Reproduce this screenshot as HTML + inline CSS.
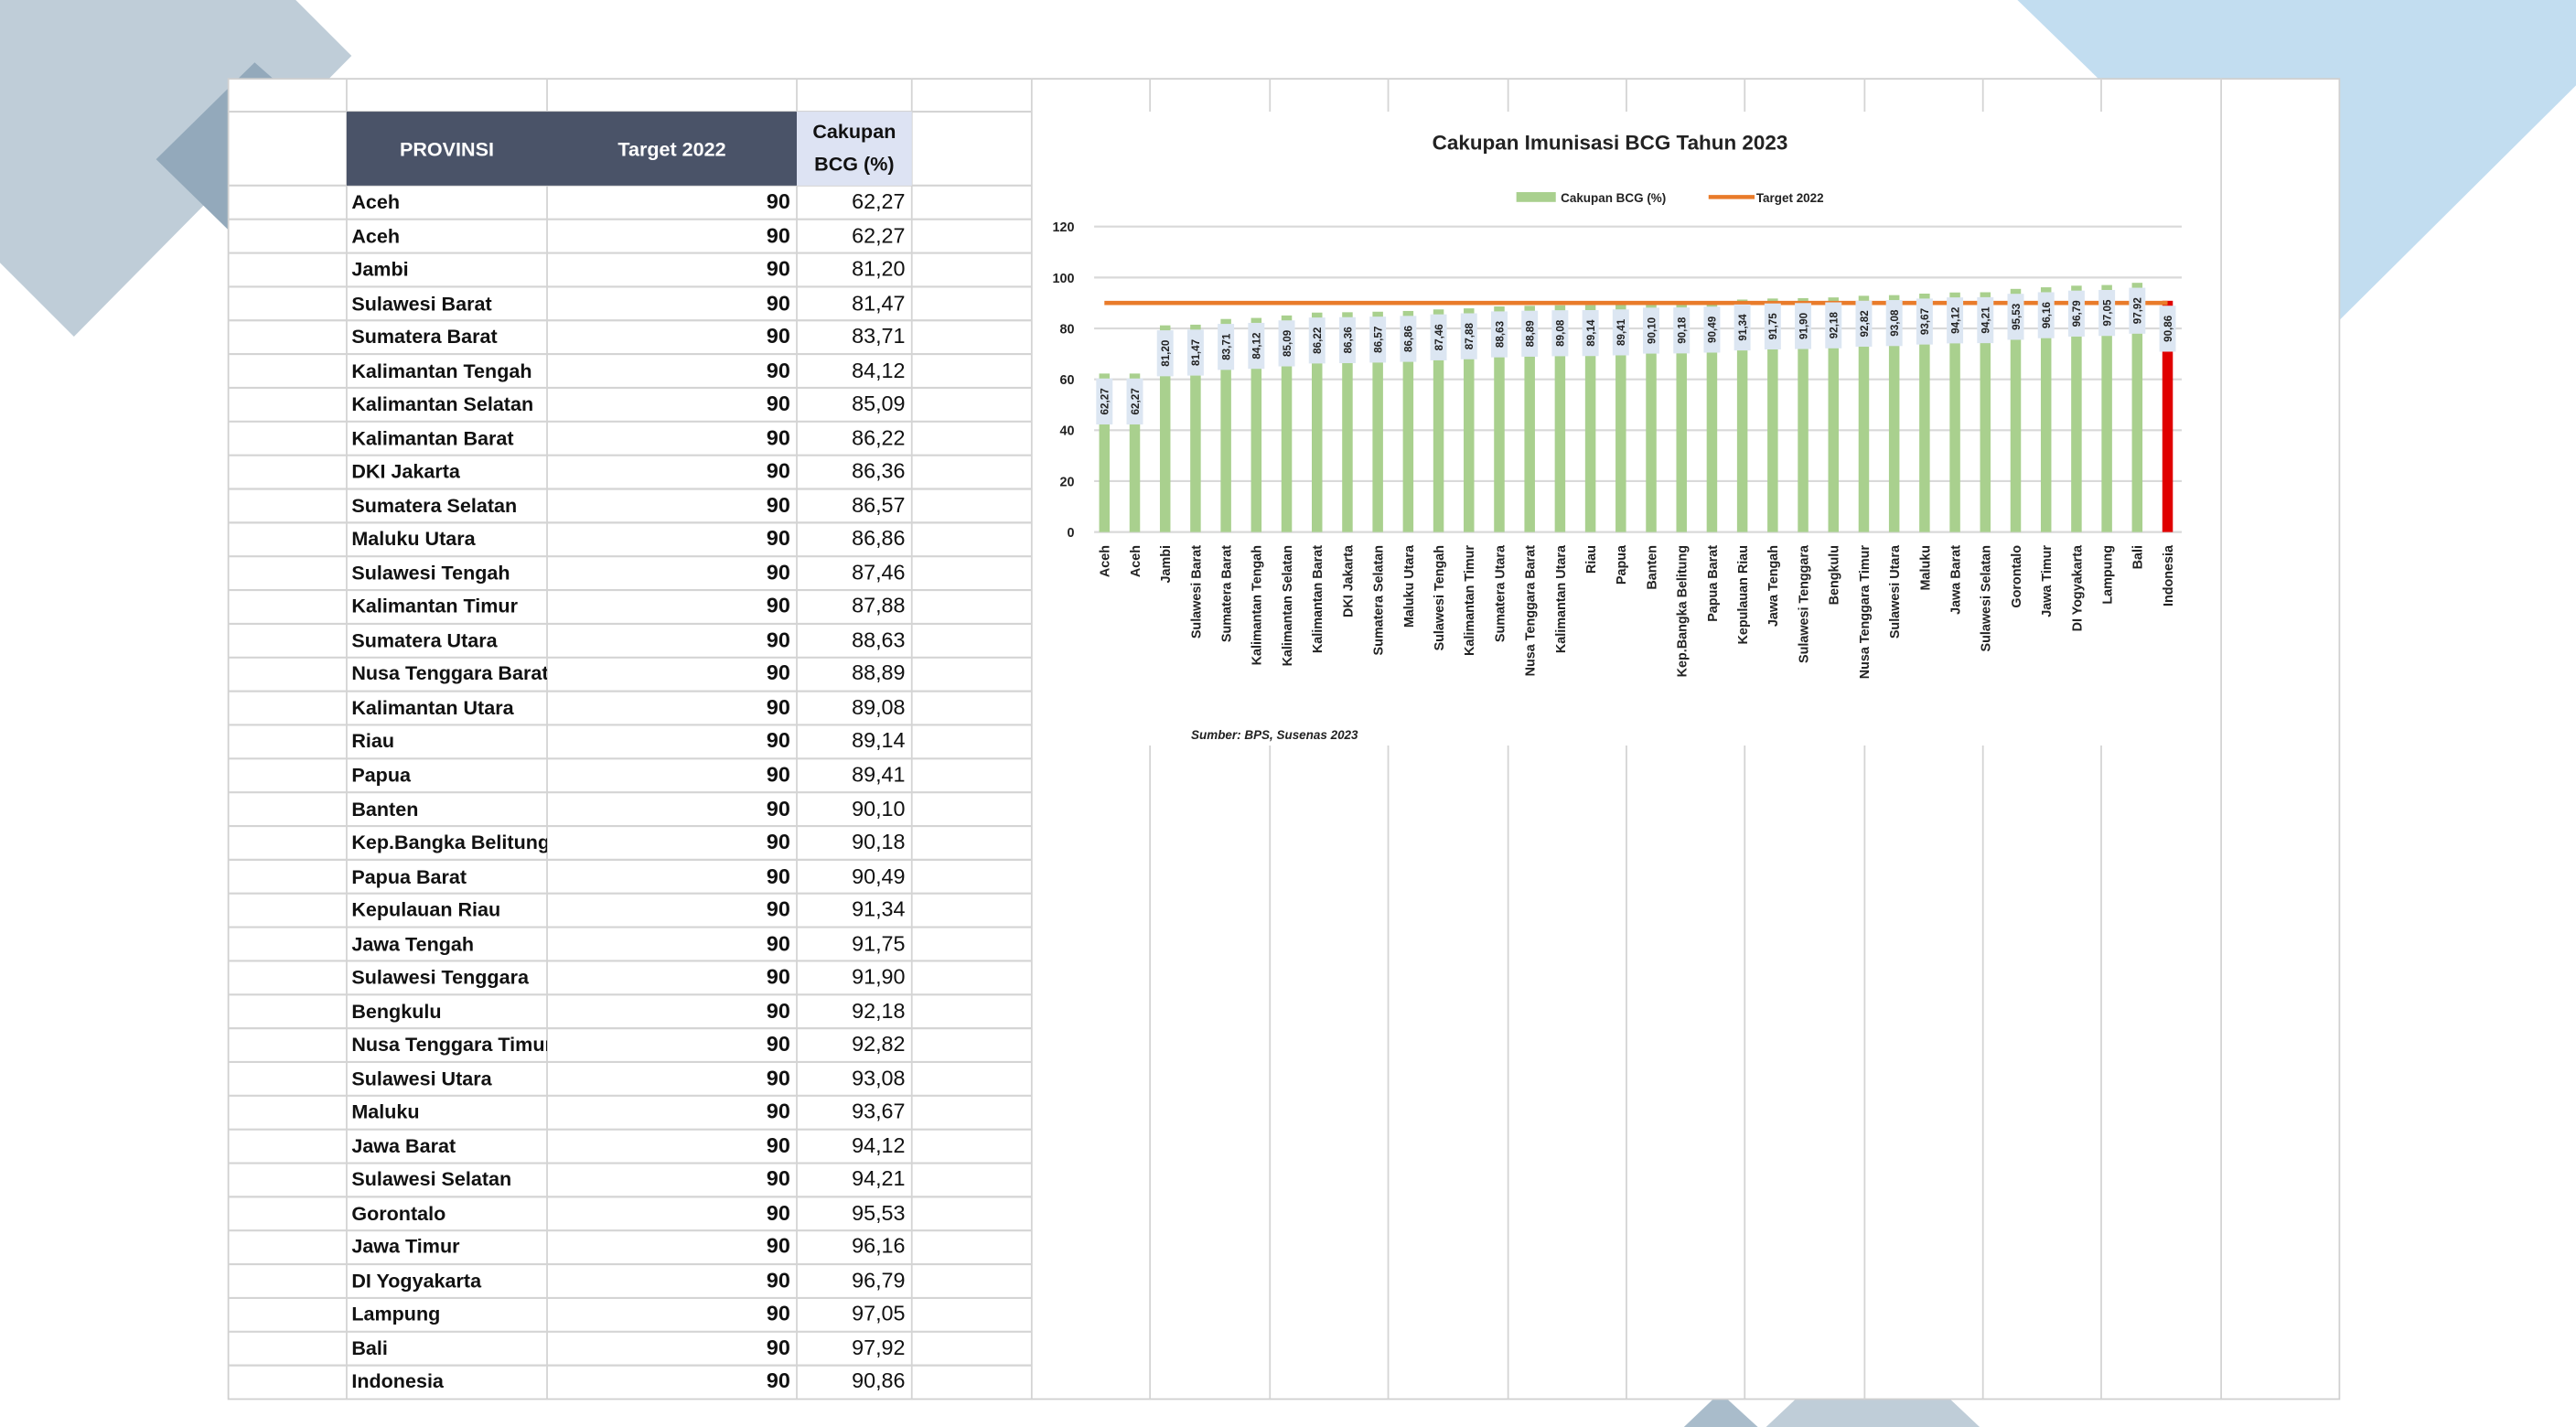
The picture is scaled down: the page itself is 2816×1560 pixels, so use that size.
<!DOCTYPE html>
<html><head><meta charset="utf-8"><style>
html,body{margin:0;padding:0;background:#fff;overflow:hidden}
#root{position:absolute;left:0;top:0;width:1568px;height:869px;transform-origin:0 0;transform:scale(1.79592,1.79517);font-family:"Liberation Sans",sans-serif}
.cell{position:absolute;overflow:hidden;white-space:nowrap;font-weight:bold;font-size:12px;line-height:20px;color:#111}
</style></head><body>
<div id="root">
<svg id="bg" width="1568" height="869" style="position:absolute;left:0;top:0">
<polygon points="0,0 180,0 214,34 45,205 0,160" fill="#bfcdd8"/>
<polygon points="155,38 95,97 139,140 180,60" fill="#93a9bb"/>
<polygon points="1228,0 1568,0 1568,52 1424,195 1300,70" fill="#c2ddf0"/>
<polygon points="1025,869 1047,848 1070,869" fill="#a9bccb"/>
<polygon points="1075,869 1093,852 1187,852 1205,869" fill="#bfcdd8"/>
</svg>
<svg id="sheet" width="1568" height="869" style="position:absolute;left:0;top:0"></svg>
<div id="cells"></div>
<svg id="chart" width="1568" height="869" style="position:absolute;left:0;top:0"></svg>
</div>
<script>
const provinces=["Aceh","Aceh","Jambi","Sulawesi Barat","Sumatera Barat","Kalimantan Tengah","Kalimantan Selatan","Kalimantan Barat","DKI Jakarta","Sumatera Selatan","Maluku Utara","Sulawesi Tengah","Kalimantan Timur","Sumatera Utara","Nusa Tenggara Barat","Kalimantan Utara","Riau","Papua","Banten","Kep.Bangka Belitung","Papua Barat","Kepulauan Riau","Jawa Tengah","Sulawesi Tenggara","Bengkulu","Nusa Tenggara Timur","Sulawesi Utara","Maluku","Jawa Barat","Sulawesi Selatan","Gorontalo","Jawa Timur","DI Yogyakarta","Lampung","Bali","Indonesia"];
const coverage=[62.27,62.27,81.20,81.47,83.71,84.12,85.09,86.22,86.36,86.57,86.86,87.46,87.88,88.63,88.89,89.08,89.14,89.41,90.10,90.18,90.49,91.34,91.75,91.90,92.18,92.82,93.08,93.67,94.12,94.21,95.53,96.16,96.79,97.05,97.92,90.86];
const target=[90,90,90,90,90,90,90,90,90,90,90,90,90,90,90,90,90,90,90,90,90,90,90,90,90,90,90,90,90,90,90,90,90,90,90,90];
const yTicks=[0,20,40,60,80,100,120];

const NS="http://www.w3.org/2000/svg";
function mk(parent,tag,attrs){const e=document.createElementNS(NS,tag);for(const k in attrs)e.setAttribute(k,attrs[k]);parent.appendChild(e);return e;}
const fmt=v=>v.toFixed(2).replace('.',',');

// spreadsheet grid
const sheet=document.getElementById('sheet');
mk(sheet,'rect',{x:139,y:48,width:1285,height:804,fill:'#fff',stroke:'#d0d0d0','stroke-width':1});
const cols=[211,333,485,555,628,700,773,845,918,990,1062,1135,1207,1279,1352];
cols.forEach(x=>{const l=mk(sheet,'line',{x1:x,y1:48,x2:x,y2:852,stroke:'#d4d4d4','stroke-width':1});

});
const rowH=(852-113)/36;
const rowsY=[68,113];for(let i=1;i<36;i++)rowsY.push(113+i*rowH);
rowsY.forEach(y=>{const l=mk(sheet,'line',{x1:139,y1:y,x2:628,y2:y,stroke:'#d4d4d4','stroke-width':1.2});

});
const hd=mk(sheet,'rect',{x:211,y:68,width:274,height:45,fill:'#4a5368'});


const hd2=mk(sheet,'rect',{x:485,y:68,width:70,height:45,fill:'#dde3f3'});



// table cells
const cells=document.getElementById('cells');
function cell(x,y,w,h,txt,align,color,name){const d=document.createElement('div');d.className='cell';
d.style.cssText=`left:${x}px;top:${y}px;width:${w}px;height:${h}px;text-align:${align};color:${color}`;
d.textContent=txt;cells.appendChild(d);


return d;}
let h1=cell(211,81,122,20,'PROVINSI','center','#fff','header-provinsi');
let h2=cell(333,81,152,20,'Target 2022','center','#fff','header-target');
let h3=cell(485,70,70,42,'Cakupan BCG (%)','center','#111','header-cakupan');
h3.style.whiteSpace='normal';h3.style.lineHeight='20px';h3.style.fontSize='12px';
for(let i=0;i<36;i++){const y=113+i*rowH;
cell(214,y,119,rowH,provinces[i],'left','#111','province-name');
const t=cell(333,y,148,rowH,String(target[i]),'right','#111','target-value');t.style.fontSize='13px';
const c=cell(485,y,66,rowH,fmt(coverage[i]),'right','#111','coverage-value');c.style.fontWeight='normal';c.style.fontSize='13px';}

// chart
const ch=document.getElementById('chart');
const bg=mk(ch,'rect',{x:630,y:68,width:706,height:386,fill:'#fff'});


const x0=663,band=18.49,y0=324,pxPer=31/20;
const xC=i=>x0+band*(i+0.5);
const yS=v=>y0-v*pxPer;
const ttl=mk(ch,'text',{x:980,y:91,'text-anchor':'middle','font-size':12.5,'font-weight':'bold',fill:'#222'});ttl.textContent='Cakupan Imunisasi BCG Tahun 2023';


yTicks.forEach(v=>{const g=mk(ch,'line',{x1:666,y1:yS(v),x2:1328,y2:yS(v),stroke:'#d9d9d9','stroke-width':1.2});


const t=mk(ch,'text',{x:654,y:yS(v)+3,'text-anchor':'end','font-size':8,'font-weight':'bold',fill:'#222'});t.textContent=v;

});
// legend
const lg1=mk(ch,'rect',{x:923,y:117,width:24,height:6,fill:'#a9d08e'});


const lt1=mk(ch,'text',{x:950,y:123,'font-size':7.5,'font-weight':'bold',fill:'#222'});lt1.textContent='Cakupan BCG (%)';


const lg2=mk(ch,'line',{x1:1040,y1:120,x2:1068,y2:120,stroke:'#e97b2a','stroke-width':2.5});


const lt2=mk(ch,'text',{x:1069,y:123,'font-size':7.5,'font-weight':'bold',fill:'#222'});lt2.textContent='Target 2022';


// bars
coverage.forEach((v,i)=>{const last=i===coverage.length-1;
const b=mk(ch,'rect',{x:xC(i)-3.2,y:yS(v),width:6.4,height:y0-yS(v),fill:last?'#e00000':'#a9d08e'});

});
// target line
let d='';target.forEach((v,i)=>{d+=(i?'L':'M')+xC(i)+','+yS(v);});
const tl=mk(ch,'path',{d:d,stroke:'#e97b2a','stroke-width':2.6,fill:'none'});


// data labels
coverage.forEach((v,i)=>{const cy=yS(v)+17,cx=xC(i);
const r=mk(ch,'rect',{x:cx-5,y:cy-14,width:10,height:28,fill:'#dce6f2'});


const t=mk(ch,'text',{x:0,y:0,transform:`translate(${cx+2.4},${cy}) rotate(-90)`,'text-anchor':'middle','font-size':6.5,'font-weight':'bold',fill:'#222'});t.textContent=fmt(v);

});
// x labels
provinces.forEach((p,i)=>{const t=mk(ch,'text',{x:0,y:0,transform:`translate(${xC(i)+3},332) rotate(-90)`,'text-anchor':'end','font-size':8,'font-weight':'bold',fill:'#222'});t.textContent=p;

});
const src=mk(ch,'text',{x:725,y:450,'font-size':7.5,'font-weight':'bold','font-style':'italic',fill:'#222'});src.textContent='Sumber: BPS, Susenas 2023';


</script>
</body></html>
